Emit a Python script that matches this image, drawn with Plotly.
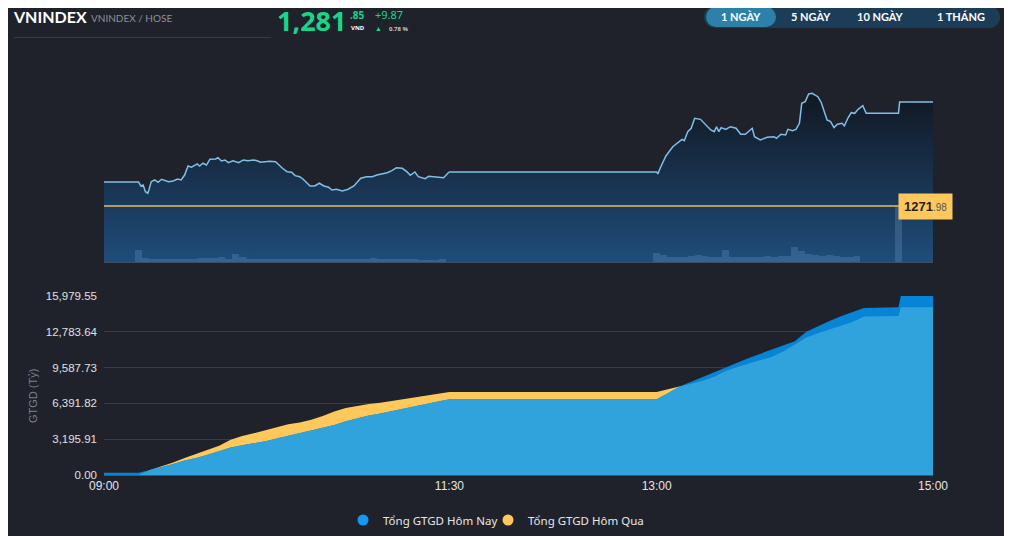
import numpy as np
import plotly.graph_objects as go

DAY = "2024-06-14 "

# ---- VNINDEX intraday price (1 NGAY) ----
price_time = [
    "09:00:00", "09:15:00", "09:16:00", "09:17:00", "09:18:00", "09:19:00", "09:19:30", "09:20:30",
    "09:22:00", "09:23:30", "09:25:00", "09:28:00", "09:30:00", "09:32:00", "09:33:30", "09:35:00",
    "09:36:30", "09:38:00", "09:40:30", "09:41:30", "09:43:00", "09:44:30", "09:46:00", "09:48:30",
    "09:49:30", "09:51:00", "09:52:30", "09:54:00", "09:56:00", "09:58:30", "10:00:30", "10:02:30",
    "10:05:00", "10:06:30", "10:08:00", "10:10:00", "10:12:00", "10:14:30", "10:16:00", "10:17:30",
    "10:19:30", "10:21:30", "10:23:00", "10:25:00", "10:26:30", "10:29:30", "10:31:30", "10:33:30",
    "10:35:30", "10:37:30", "10:39:00", "10:41:00", "10:43:30", "10:46:00", "10:48:30", "10:51:30",
    "10:54:00", "10:56:30", "10:58:30", "11:00:30", "11:03:00", "11:05:00", "11:07:00", "11:09:30",
    "11:11:30", "11:13:00", "11:15:00", "11:16:30", "11:19:30", "11:21:00", "11:23:00", "11:25:30",
    "11:27:30", "11:29:30", "11:30:00",
    "13:00:00", "13:00:30", "13:01:30", "13:04:00", "13:07:00", "13:09:30", "13:11:00", "13:12:00",
    "13:13:30", "13:15:00", "13:16:30", "13:19:00", "13:21:30", "13:23:30", "13:25:00", "13:26:00",
    "13:27:00", "13:28:00", "13:30:00", "13:32:00", "13:34:30", "13:36:30", "13:38:30", "13:41:30",
    "13:42:30", "13:45:00", "13:48:00", "13:51:00", "13:52:00", "13:54:00", "13:56:00", "13:57:00",
    "13:59:00", "14:00:30", "14:02:00", "14:03:00", "14:04:30", "14:06:00", "14:07:30", "14:10:00",
    "14:11:30", "14:12:30", "14:14:00", "14:15:30", "14:17:00", "14:18:30", "14:20:30", "14:21:30",
    "14:23:00", "14:24:30", "14:26:00", "14:27:30", "14:29:30", "14:31:00", "14:45:00", "14:45:30",
    "15:00:00",
]
price_value = [
    1274.26, 1274.26, 1273.88, 1273.97, 1273.34, 1273.19, 1273.50, 1274.29,
    1274.45, 1274.23, 1274.52, 1274.29, 1274.35, 1274.54, 1274.45, 1274.92,
    1275.78, 1275.66, 1275.97, 1275.78, 1276.04, 1275.87, 1276.42, 1276.44,
    1276.57, 1276.25, 1276.35, 1276.09, 1276.28, 1276.09, 1276.35, 1276.28,
    1276.35, 1276.28, 1276.13, 1276.19, 1276.22, 1276.19, 1275.87, 1275.56,
    1275.24, 1275.18, 1274.86, 1274.76, 1274.52, 1273.88, 1273.88, 1274.14,
    1273.88, 1273.76, 1273.50, 1273.57, 1273.40, 1273.57, 1273.88, 1274.61,
    1274.76, 1274.76, 1274.92, 1275.02, 1275.14, 1275.33, 1275.62, 1275.56,
    1275.24, 1274.90, 1275.21, 1274.76, 1274.57, 1274.80, 1274.76, 1274.76,
    1274.67, 1275.14, 1275.21,
    1275.21, 1275.02, 1275.56, 1276.73, 1277.61, 1278.09, 1278.31, 1278.18,
    1279.04, 1279.36, 1280.31, 1280.21, 1279.67, 1279.20, 1279.04, 1279.51,
    1279.04, 1279.42, 1279.26, 1279.51, 1279.36, 1278.79, 1278.79, 1279.36,
    1278.56, 1278.25, 1278.50, 1278.56, 1278.41, 1278.79, 1278.72, 1279.26,
    1279.13, 1279.26, 1279.83, 1281.73, 1281.89, 1282.62, 1282.68, 1282.36,
    1281.79, 1281.10, 1280.15, 1279.99, 1279.42, 1279.74, 1279.83, 1279.58,
    1280.31, 1280.84, 1280.78, 1281.16, 1281.51, 1280.78, 1280.78, 1281.85,
    1281.85,
]
ref_price = 1271.98

# volume per 3-minute bin (million shares)
vol_time = [
    "09:15", "09:18", "09:21", "09:24", "09:27", "09:30", "09:33", "09:36", "09:39", "09:42",
    "09:45", "09:48", "09:51", "09:54", "09:57", "10:00", "10:03", "10:06", "10:09", "10:12",
    "10:15", "10:18", "10:21", "10:24", "10:27", "10:30", "10:33", "10:36", "10:39", "10:42",
    "10:45", "10:48", "10:51", "10:54", "10:57", "11:00", "11:03", "11:06", "11:09", "11:12",
    "11:15", "11:18", "11:21", "11:24", "11:27",
    "13:00", "13:03", "13:06", "13:09", "13:12", "13:15", "13:18", "13:21", "13:24", "13:27",
    "13:30", "13:33", "13:36", "13:39", "13:42", "13:45", "13:48", "13:51", "13:54", "13:57",
    "14:00", "14:03", "14:06", "14:09", "14:12", "14:15", "14:18", "14:21", "14:24", "14:27",
    "14:45",
]
vol_value = [
    24, 8, 7, 7, 6, 6, 6, 7, 7, 8,
    9, 8, 10, 7, 16, 10, 7, 6, 7, 7,
    6, 7, 7, 6, 6, 6, 7, 7, 6, 6,
    7, 6, 7, 6, 8, 7, 6, 6, 6, 6,
    7, 5, 5, 5, 7,
    18, 14, 10, 10, 10, 12, 14, 12, 10, 10,
    24, 10, 10, 10, 11, 10, 12, 10, 12, 12,
    30, 22, 16, 14, 12, 14, 12, 10, 10, 12,
    112,
]

# ---- cumulative trading value GTGD (ty dong) ----
gtgd_time = [
    "09:00", "09:15", "09:20", "09:25", "09:30", "09:35", "09:40", "09:45", "09:50", "09:55",
    "10:00", "10:05", "10:10", "10:15", "10:20", "10:25", "10:30", "10:35", "10:40", "10:45",
    "10:50", "10:55", "11:00", "11:05", "11:10", "11:15", "11:20", "11:25", "11:30",
    "13:00", "13:05", "13:10", "13:15", "13:20", "13:25", "13:30", "13:35", "13:40", "13:45",
    "13:50", "13:55", "14:00", "14:05", "14:10", "14:15", "14:20", "14:25", "14:30",
    "14:45", "14:46", "15:00",
]
gtgd_today = [
    200, 200, 450, 690, 980, 1300, 1510, 1800, 2140, 2460,
    2650, 2830, 3020, 3260, 3500, 3710, 3950, 4210, 4470, 4790,
    5060, 5310, 5500, 5720, 5940, 6200, 6400, 6570, 6760,
    6760, 7330, 7900, 8320, 8760, 9210, 9610, 10030, 10450, 10840,
    11200, 11550, 11950, 12790, 13300, 13750, 14170, 14570, 14900,
    14970, 15979.55, 15979.55,
]
gtgd_yesterday = [
    0, 0, 450, 750, 1110, 1520, 1870, 2240, 2620, 3150,
    3480, 3730, 3980, 4280, 4520, 4690, 4940, 5260, 5670, 5990,
    6190, 6330, 6450, 6620, 6790, 6950, 7120, 7290, 7410,
    7410, 7650, 7900, 8140, 8420, 8780, 9290, 9640, 9950, 10260,
    10560, 11020, 11640, 12280, 12650, 12990, 13300, 13660, 14150,
    14190, 14970, 14970,
]
gtgd_ticks = [0, 3195.91, 6391.82, 9587.73, 12783.64, 15979.55]
x_ticks = ["09:00", "11:30", "13:00", "15:00"]

BG = "#1f222a"
GREEN = "#17d68c"
# the page puts the figure 8px in from the corner; extra height below is just cropped
OFF = 8
W, H = 1004, 540
L, R, T, B = 96, 79, 52, 73


def px(x):
    return (x - OFF - L) / (W - L - R)


def py(y):
    return (H - B - (y - OFF)) / (H - T - B)


def ts(lst):
    return [DAY + t for t in lst]


price_lo, price_hi = 1266.66, 1283.47
fig = go.Figure()

fig.add_trace(go.Scatter(
    x=ts(price_time), y=price_value, xaxis="x", yaxis="y", mode="lines",
    line=dict(color="#80bfe8", width=1.5), fill="tozeroy",
    fillgradient=dict(type="vertical", start=price_lo, stop=price_hi,
                      colorscale=[[0, "#1f4d7b"], [1, "#10151d"]]),
    showlegend=False,
))
# volume bars under the price line
fig.add_trace(go.Bar(
    x=ts(vol_time), y=vol_value, xaxis="x", yaxis="y3",
    width=180000, marker=dict(color="rgba(100,145,190,0.32)", line_width=0),
    showlegend=False, hoverinfo="skip",
))

today = np.array(gtgd_today)
yest = np.array(gtgd_yesterday)
fig.add_trace(go.Scatter(
    x=ts(gtgd_time), y=yest, xaxis="x2", yaxis="y2", mode="lines",
    line=dict(width=0, color="#ffc85a"), fill="tozeroy", fillcolor="#ffc85a",
    showlegend=False,
))
fig.add_trace(go.Scatter(
    x=ts(gtgd_time), y=today, xaxis="x2", yaxis="y2", mode="lines",
    line=dict(width=0, color="#0684d5"), fill="tozeroy", fillcolor="#0684d5",
    showlegend=False,
))
fig.add_trace(go.Scatter(
    x=ts(gtgd_time), y=np.minimum(today, yest), xaxis="x2", yaxis="y2", mode="lines",
    line=dict(width=0, color="#31a3dc"), fill="tozeroy", fillcolor="#31a3dc",
    showlegend=False,
))
# legend entries with round markers, one legend box each so they can sit close together
for name, col, lg in [("Tổng GTGD Hôm Nay", "#1499f3", "legend"), ("Tổng GTGD Hôm Qua", "#ffc85c", "legend2")]:
    fig.add_trace(go.Scatter(
        x=[None], y=[None], xaxis="x2", yaxis="y2", mode="markers", name=name, legend=lg,
        marker=dict(size=11, color=col, symbol="circle"),
    ))

xr = [DAY + "09:00", DAY + "15:00"]
top_dom = [py(262), py(85)]
bot_dom = [0, py(296)]

annotations = [
    dict(text="<b>VNINDEX</b>", x=px(11), y=py(17), font=dict(size=16, color="#ffffff", family="Lato")),
    dict(text="VNINDEX / HOSE", x=px(89), y=py(18.5), font=dict(size=10, color="#8e9197", family="Lato")),
    dict(text="<b>1,281</b>", x=px(275), y=py(21), font=dict(size=27, color=GREEN)),
    dict(text="<b>.85</b>", x=px(348), y=py(15), font=dict(size=10, color=GREEN)),
    dict(text="<b>VND</b>", x=px(349), y=py(28), font=dict(size=6, color="#ffffff")),
    dict(text="+9.87", x=px(373), y=py(15), font=dict(size=11, color=GREEN)),
    dict(text="▲", x=px(373), y=py(29), font=dict(size=7, color=GREEN)),
    dict(text="<b>0.78 %</b>", x=px(387), y=py(29), font=dict(size=6, color="#c8c8c8")),
    dict(text="GTGD (Tỷ)", x=px(33), y=py(396), xanchor="center", textangle=-90,
         font=dict(size=11, color="#7d8087", family="Liberation Sans")),
    dict(text="<b>1271</b><span style='font-size:10px;color:#555'>.98</span>", x=px(898), y=py(206),
         bgcolor="#ffc85c", borderpad=5, font=dict(size=13, color="#222222", family="Liberation Sans")),
]
for label, cx in [("1 NGÀY", 741), ("5 NGÀY", 811), ("10 NGÀY", 880), ("1 THÁNG", 961)]:
    annotations.append(dict(text="<b>%s</b>" % label, x=px(cx), y=py(17), xanchor="center",
                            font=dict(size=11, color="#ffffff", family="Lato")))
for a in annotations:
    a.setdefault("xref", "paper")
    a.setdefault("yref", "paper")
    a.setdefault("xanchor", "left")
    a.setdefault("yanchor", "middle")
    a.setdefault("showarrow", False)

shapes = [
    dict(type="line", xref="paper", yref="paper", x0=px(14), x1=px(271), y0=py(37.5), y1=py(37.5),
         line=dict(color="#363a42", width=1)),
    dict(type="line", xref="x domain", yref="y", x0=0, x1=1, y0=ref_price, y1=ref_price,
         line=dict(color="#b39b64", width=2)),
]


def pill(x0, x1, y0, y1, col):
    r = (y1 - y0) / 2
    return [
        dict(type="rect", xref="paper", yref="paper", x0=px(x0 + r), x1=px(x1 - r), y0=py(y1), y1=py(y0),
             fillcolor=col, line_width=0, layer="below"),
        dict(type="circle", xref="paper", yref="paper", x0=px(x0), x1=px(x0 + 2 * r), y0=py(y1), y1=py(y0),
             fillcolor=col, line_width=0, layer="below"),
        dict(type="circle", xref="paper", yref="paper", x0=px(x1 - 2 * r), x1=px(x1), y0=py(y1), y1=py(y0),
             fillcolor=col, line_width=0, layer="below"),
    ]


shapes += pill(704, 1000, 6, 28, "#1b3d57")
shapes += pill(706, 776, 7, 27, "#2d81a8")

legend_common = dict(orientation="h", xanchor="left", y=py(520), yanchor="middle",
                     font=dict(size=11.5, color="#e8e8e8"), bgcolor="rgba(0,0,0,0)", itemwidth=30)

fig.update_layout(
    width=W, height=H,
    margin=dict(l=L, r=R, t=T, b=B),
    paper_bgcolor=BG, plot_bgcolor=BG,
    font=dict(family="Noto Sans", color="#e6e6e6"),
    bargap=0,
    xaxis=dict(domain=[0, 1], anchor="y", type="date", range=xr, showticklabels=False,
               showgrid=False, zeroline=False, showline=True, linecolor="#3b4e64", linewidth=1),
    yaxis=dict(domain=top_dom, range=[price_lo, price_hi], visible=False),
    yaxis3=dict(overlaying="y", range=[0, 354], visible=False),
    xaxis2=dict(domain=[0, 1], anchor="y2", type="date", range=xr, showgrid=False, zeroline=False,
                showline=True, linecolor="#50545c", linewidth=1, ticks="",
                tickvals=ts(x_ticks), ticktext=x_ticks,
                tickfont=dict(size=12, color="#e6e6e6", family="Liberation Sans")),
    yaxis2=dict(domain=bot_dom, range=[0, gtgd_ticks[-1]], tickvals=gtgd_ticks,
                ticktext=["{:,.2f}".format(v) for v in gtgd_ticks], ticks="", ticklabelstandoff=6,
                gridcolor="#3a3d44", gridwidth=1, zeroline=False, showline=False,
                tickfont=dict(size=11.5, color="#e0e0e0", family="Liberation Sans")),
    legend=dict(x=px(343), **legend_common),
    legend2=dict(x=px(488), **legend_common),
    annotations=annotations,
    shapes=shapes,
    hovermode=False,
)

fig.write_html("out.html")
